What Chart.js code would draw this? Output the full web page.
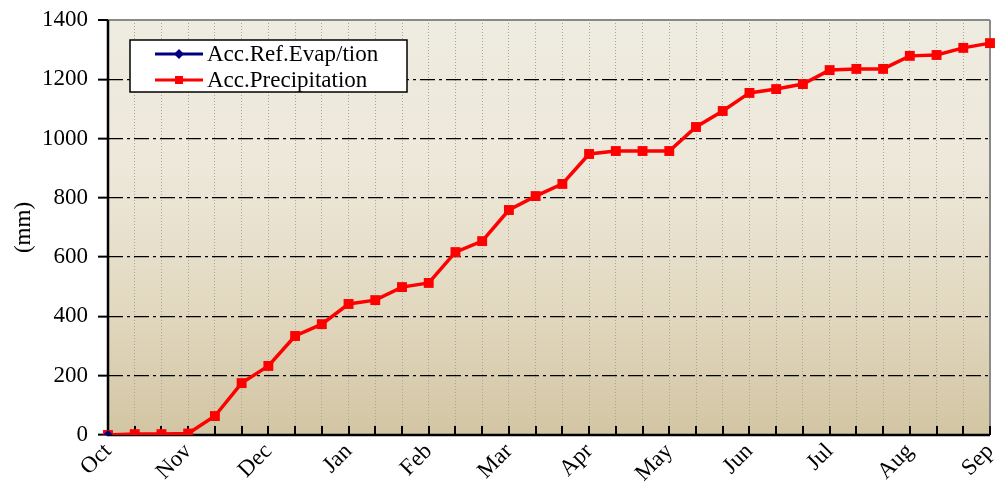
<!DOCTYPE html>
<html>
<head>
<meta charset="utf-8">
<script src="https://cdn.jsdelivr.net/npm/chart.js@4.4.1/dist/chart.umd.min.js"></script>
<style>
html,body{margin:0;padding:0;background:#fff;}
#wrap{width:1007px;height:491px;}
</style>
</head>
<body>
<div id="wrap"><canvas id="c" width="1007" height="491"></canvas></div>
<script>
const monthLabels = ['Oct','Nov','Dec','Jan','Feb','Mar','Apr','May','Jun','Jul','Aug','Sep'];
const pointsPerMonth = 3;
const precipitation = [0,3,3,5,64,175,233,334,374,442,455,499,513,617,654,759,806,847,948,958,958,958,1039,1093,1154,1167,1184,1231,1235,1235,1279,1282,1306,1322];
const evaporation = [0];
const yTicks = [0,200,400,600,800,1000,1200,1400];
const seriesNames = ['Acc.Ref.Evap/tion','Acc.Precipitation'];

const categories = precipitation.map((v,i) => (i % pointsPerMonth === 0) ? monthLabels[i / pointsPerMonth] : '');
const FONT = 'Liberation Serif';
const FSIZE = 23;

const bgPlugin = {
  id: 'bg',
  beforeDraw(chart) {
    const {ctx, chartArea: a} = chart;
    const g = ctx.createLinearGradient(0, a.top, 0, a.bottom);
    g.addColorStop(0, '#EEEBE0');
    g.addColorStop(0.35, '#EDE8DA');
    g.addColorStop(0.7, '#E2D8BF');
    g.addColorStop(1, '#D2C5A3');
    ctx.save();
    ctx.fillStyle = g;
    ctx.fillRect(a.left, a.top, a.right - a.left, a.bottom - a.top);
    ctx.restore();
  },
  beforeDatasetsDraw(chart) {
    const {ctx, chartArea: a, scales} = chart;
    ctx.save();
    ctx.setLineDash([]);
    ctx.strokeStyle = '#000';
    ctx.lineWidth = 2;
    const xs = scales.x;
    for (let i = 0; i < categories.length; i++) {
      const x = Math.round(xs.getPixelForValue(i));
      ctx.beginPath();
      ctx.moveTo(x, a.bottom);
      ctx.lineTo(x, a.bottom - 9);
      ctx.stroke();
    }
    ctx.lineWidth = 2.5;
    ctx.beginPath();
    ctx.moveTo(a.left, a.top);
    ctx.lineTo(a.left, a.bottom);
    ctx.lineTo(a.right, a.bottom);
    ctx.stroke();
    ctx.restore();
  },
  afterDraw(chart) {
    const {ctx} = chart;
    const x0 = 130, y0 = 40, w = 277, h = 52;
    ctx.save();
    ctx.setLineDash([]);
    ctx.fillStyle = '#fff';
    ctx.fillRect(x0, y0, w, h);
    ctx.strokeStyle = '#000';
    ctx.lineWidth = 1.5;
    ctx.strokeRect(x0, y0, w, h);
    const rows = [
      {label: chart.data.datasets[0].label, color: '#000080', y: 54, shape: 'diamond'},
      {label: chart.data.datasets[1].label, color: '#FF0000', y: 80, shape: 'rect'}
    ];
    rows.forEach(r => {
      ctx.strokeStyle = r.color;
      ctx.lineWidth = 3;
      ctx.beginPath();
      ctx.moveTo(155, r.y);
      ctx.lineTo(203, r.y);
      ctx.stroke();
      ctx.fillStyle = r.color;
      ctx.beginPath();
      if (r.shape === 'diamond') {
        ctx.moveTo(179, r.y - 5); ctx.lineTo(184, r.y); ctx.lineTo(179, r.y + 5); ctx.lineTo(174, r.y);
      } else {
        ctx.rect(175, r.y - 4, 8, 8);
      }
      ctx.closePath();
      ctx.fill();
      ctx.fillStyle = '#000';
      ctx.font = FSIZE + 'px "' + FONT + '"';
      ctx.textBaseline = 'middle';
      ctx.textAlign = 'left';
      ctx.fillText(r.label, 207, r.y + 1);
    });
    ctx.restore();
  }
};

new Chart(document.getElementById('c'), {
  type: 'line',
  data: {
    labels: categories,
    datasets: [
      {
        label: seriesNames[0],
        data: evaporation,
        borderColor: '#000080',
        backgroundColor: '#000080',
        borderWidth: 3,
        pointStyle: 'rectRot',
        pointRadius: 5,
        pointBorderWidth: 0
      },
      {
        label: seriesNames[1],
        data: precipitation,
        borderColor: '#FF0000',
        backgroundColor: '#FF0000',
        borderWidth: 3.5,
        pointStyle: 'rect',
        pointRadius: 7,
        pointBorderWidth: 0,
        tension: 0
      }
    ]
  },
  options: {
    responsive: false,
    animation: false,
    devicePixelRatio: 1,
    layout: {padding: {left: 0, right: 17, top: 20, bottom: 0}},
    plugins: {legend: {display: false}, tooltip: {enabled: false}},
    scales: {
      x: {
        type: 'category',
        offset: false,
        afterFit(s) { s.height = 56; s.paddingLeft = 0; s.paddingRight = 0; },
        grid: {
          drawTicks: false,
          color: (c) => c.index === 0 ? 'rgba(0,0,0,0)' : (c.index === categories.length - 1 ? '#8a8a8a' : '#a8a49c'),
          lineWidth: (c) => c.index === categories.length - 1 ? 2 : 1
        },
        border: {
          display: false,
          dash: (c) => (c.index === categories.length - 1) ? [] : [1, 2]
        },
        ticks: {
          autoSkip: false,
          maxRotation: 45,
          minRotation: 45,
          padding: 3,
          color: '#000',
          font: {family: FONT, size: FSIZE}
        }
      },
      y: {
        min: 0,
        max: 1400,
        afterFit(s) { s.width = 108; s.paddingTop = 0; s.paddingBottom = 0; },
        afterBuildTicks(s) { s.ticks = yTicks.map(v => ({value: v})); },
        title: {
          display: true,
          text: '(mm)',
          color: '#000',
          font: {family: FONT, size: FSIZE},
          padding: {top: 10, bottom: 0}
        },
        grid: {
          drawTicks: true,
          tickLength: 10,
          tickColor: '#000',
          tickWidth: 2,
          tickBorderDash: [],
          color: (c) => c.tick && c.tick.value === 0 ? 'rgba(0,0,0,0)' : (c.tick && c.tick.value === 1400 ? '#8a8a8a' : '#000'),
          lineWidth: (c) => c.tick && c.tick.value === 1400 ? 2 : 1.3
        },
        border: {
          display: false,
          dash: (c) => (c.tick && c.tick.value > 0 && c.tick.value < 1400) ? [15, 4, 3, 4] : []
        },
        ticks: {
          padding: 10,
          color: '#000',
          font: {family: FONT, size: FSIZE},
          callback: (v) => String(v)
        }
      }
    }
  },
  plugins: [bgPlugin]
});
</script>
</body>
</html>
